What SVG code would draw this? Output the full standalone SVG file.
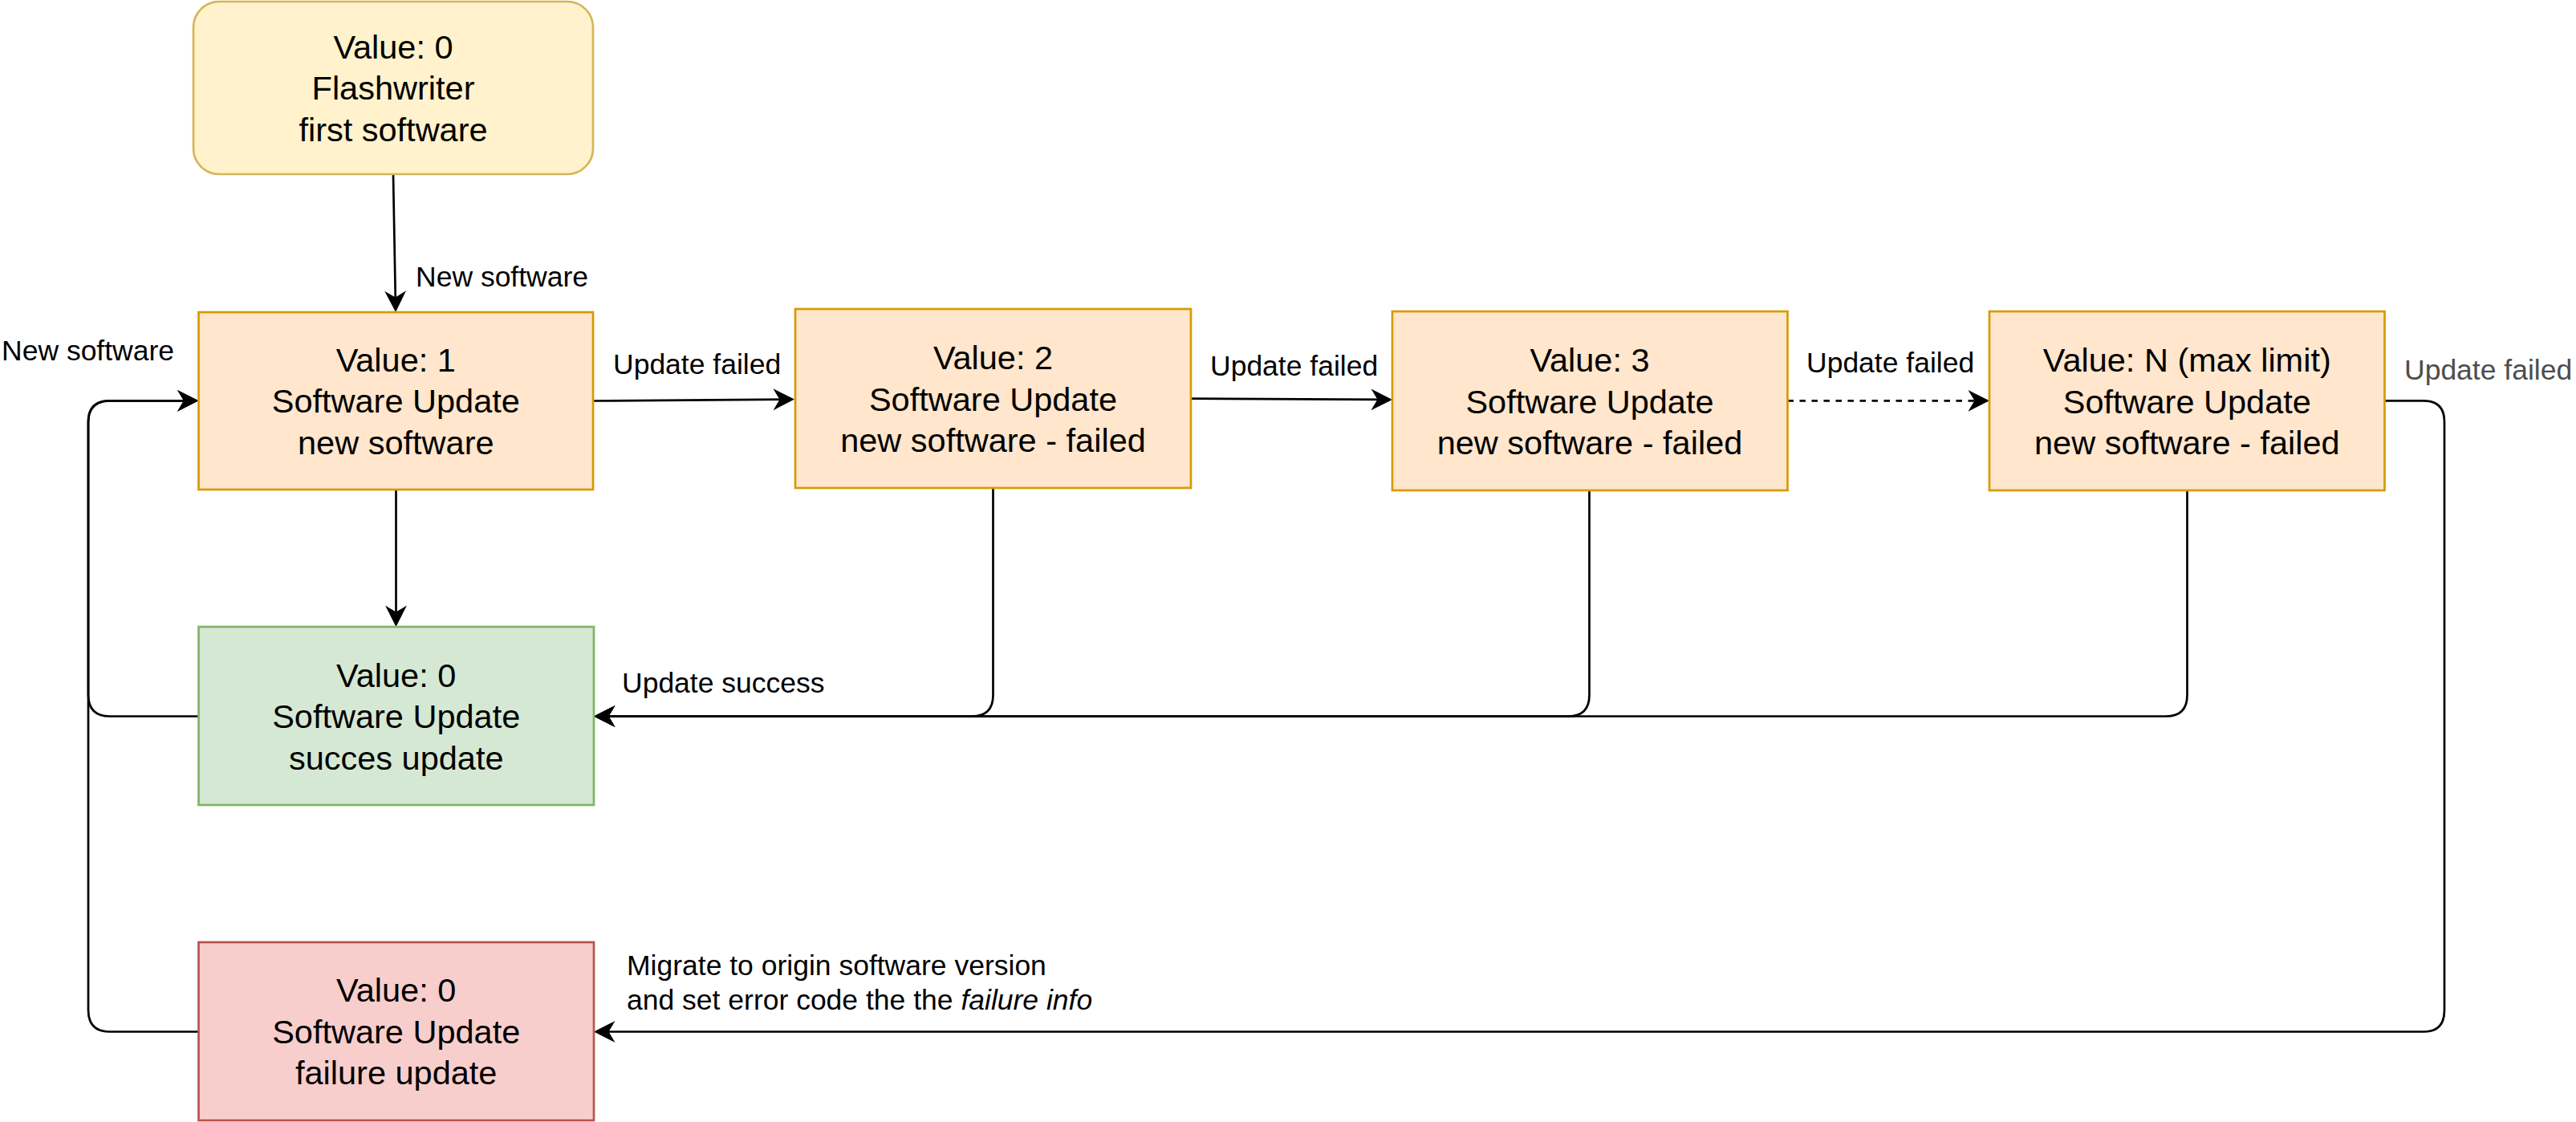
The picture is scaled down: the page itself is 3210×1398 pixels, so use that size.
<svg xmlns="http://www.w3.org/2000/svg" width="3210" height="1398" viewBox="0 0 3210 1398">
<style>
.node text{font-family:"Liberation Sans",Arial,sans-serif;font-size:41.5px;fill:#000;text-anchor:middle}
.lbl{font-family:"Liberation Sans",Arial,sans-serif;font-size:35.5px;fill:#000}
.edge{fill:none;stroke:#000;stroke-width:2.7}
.orange{fill:#ffe6cc;stroke:#d79b00;stroke-width:2.7}
</style>
<defs>
<marker id="arr" markerUnits="userSpaceOnUse" markerWidth="28" markerHeight="28" viewBox="0 0 28 28" refX="17" refY="14" orient="auto">
<path d="M0.5,0.6 L27,14 L0.5,27.4 L8.5,14 Z" fill="#000"/>
</marker>
</defs>
<rect width="3210" height="1398" fill="#fff"/>

<g id="connectors">
<path class="edge" d="M490,217 L492.9,379" marker-end="url(#arr)"/>
<path class="edge" d="M739,499.5 L980,497.6" marker-end="url(#arr)"/>
<path class="edge" d="M1484,496.6 L1725,497.9" marker-end="url(#arr)"/>
<path class="edge" d="M2227.5,499.3 L2469,499.3" stroke-dasharray="7.5 7.5" marker-end="url(#arr)"/>
<path class="edge" d="M493.5,610 L493.5,771" marker-end="url(#arr)"/>
<path class="edge" d="M247.5,892.5 L137,892.5 Q110,892.5 110,865.5 L110,526 Q110,499.3 137,499.3 L237.5,499.3" marker-end="url(#arr)"/>
<path class="edge" d="M1237.5,608 L1237.5,866 Q1237.5,892.5 1211,892.5 L750,892.5" marker-end="url(#arr)"/>
<path class="edge" d="M1980.5,611 L1980.5,866 Q1980.5,892.5 1954,892.5 L750,892.5" marker-end="url(#arr)"/>
<path class="edge" d="M2725.5,611 L2725.5,866 Q2725.5,892.5 2699,892.5 L750,892.5" marker-end="url(#arr)"/>
<path class="edge" d="M2971.5,499.3 L3020,499.3 Q3046,499.3 3046,525.5 L3046,1259 Q3046,1285.5 3020,1285.5 L750,1285.5" marker-end="url(#arr)"/>
<path class="edge" d="M247.5,1285.5 L137,1285.5 Q110,1285.5 110,1258.5 L110,526 Q110,499.3 137,499.3 L237.5,499.3" marker-end="url(#arr)"/>
<text class="lbl" x="518" y="357">New software</text>
<text class="lbl" x="2" y="449">New software</text>
<text class="lbl" x="764" y="466">Update failed</text>
<text class="lbl" x="1508" y="467.5">Update failed</text>
<text class="lbl" x="2251" y="464">Update failed</text>
<text class="lbl" x="2996" y="473" style="fill:#4d4d4d">Update failed</text>
<text class="lbl" x="775" y="863">Update success</text>
<text class="lbl" x="781" y="1215">Migrate to origin software version</text>
<text class="lbl" x="781" y="1258">and set error code the the <tspan font-style="italic">failure info</tspan></text>
</g>

<g id="node-flashwriter" class="node">
<rect x="241" y="2" width="498" height="215" rx="32" ry="32" fill="#fff2cc" stroke="#d6b656" stroke-width="2.7"/>
<text x="490" y="72.5">Value: 0</text>
<text x="490" y="124">Flashwriter</text>
<text x="490" y="175.5">first software</text>
</g>

<g id="node-value1" class="node">
<rect class="orange" x="247.5" y="389" width="491.5" height="221"/>
<text x="493.3" y="462.5">Value: 1</text>
<text x="493.3" y="514">Software Update</text>
<text x="493.3" y="565.5">new software</text>
</g>

<g id="node-value2" class="node">
<rect class="orange" x="991" y="385" width="493" height="223"/>
<text x="1237.5" y="460">Value: 2</text>
<text x="1237.5" y="511.5">Software Update</text>
<text x="1237.5" y="563">new software - failed</text>
</g>

<g id="node-value3" class="node">
<rect class="orange" x="1735" y="388" width="492.5" height="223"/>
<text x="1981" y="463">Value: 3</text>
<text x="1981" y="514.5">Software Update</text>
<text x="1981" y="566">new software - failed</text>
</g>

<g id="node-valueN" class="node">
<rect class="orange" x="2479" y="388" width="492.5" height="223"/>
<text x="2725.3" y="463">Value: N (max limit)</text>
<text x="2725.3" y="514.5">Software Update</text>
<text x="2725.3" y="566">new software - failed</text>
</g>

<g id="node-success" class="node">
<rect x="247.5" y="781" width="492.5" height="222" fill="#d5e8d4" stroke="#82b366" stroke-width="2.7"/>
<text x="493.7" y="855.5">Value: 0</text>
<text x="493.7" y="907">Software Update</text>
<text x="493.7" y="958.5">succes update</text>
</g>

<g id="node-failure" class="node">
<rect x="247.5" y="1174" width="492.5" height="222" fill="#f8cecc" stroke="#b85450" stroke-width="2.7"/>
<text x="493.7" y="1248">Value: 0</text>
<text x="493.7" y="1299.5">Software Update</text>
<text x="493.7" y="1351">failure update</text>
</g>
</svg>
